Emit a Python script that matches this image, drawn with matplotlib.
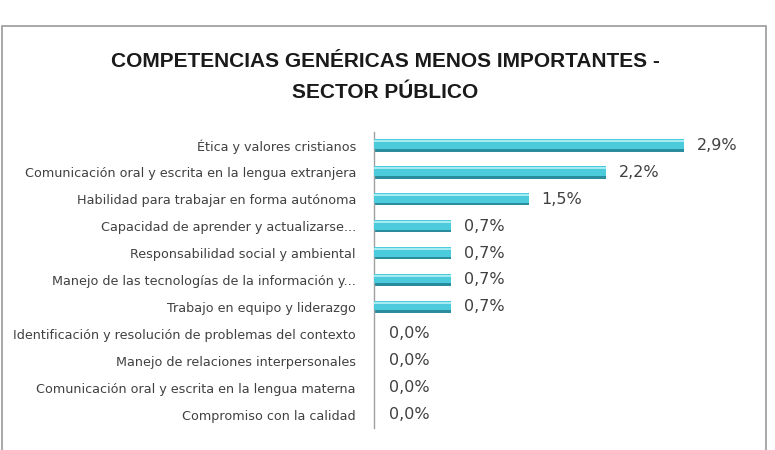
import matplotlib
matplotlib.use("Agg")
import matplotlib.pyplot as plt
from matplotlib.patches import Rectangle

categories = [
    "Ética y valores cristianos",
    "Comunicación oral y escrita en la lengua extranjera",
    "Habilidad para trabajar en forma autónoma",
    "Capacidad de aprender y actualizarse...",
    "Responsabilidad social y ambiental",
    "Manejo de las tecnologías de la información y...",
    "Trabajo en equipo y liderazgo",
    "Identificación y resolución de problemas del contexto",
    "Manejo de relaciones interpersonales",
    "Comunicación oral y escrita en la lengua materna",
    "Compromiso con la calidad",
]
values = [2.86, 2.14, 1.43, 0.71, 0.71, 0.71, 0.71, 0.0, 0.0, 0.0, 0.0]
value_labels = ["2,9%", "2,2%", "1,5%", "0,7%", "0,7%", "0,7%", "0,7%",
                "0,0%", "0,0%", "0,0%", "0,0%"]
title = "COMPETENCIAS GENÉRICAS MENOS IMPORTANTES -\nSECTOR PÚBLICO"

fig = plt.figure(figsize=(7.75, 4.5), dpi=100)
fig.patch.set_facecolor("white")
ax = fig.add_axes([374/775, 1-428/450, (743-374)/775, (428-132)/450])

y = list(range(len(categories)))
# base (darker lower edge), main cyan body, light top highlight
ax.barh(y, values, height=0.46, color="#2a8d9e", edgecolor="none", zorder=2)
ax.barh([v - 0.05 for v in y], values, height=0.36, color="#4ccbdc", edgecolor="none", zorder=3)
ax.barh([v - 0.16 for v in y], values, height=0.08, color="#a6ebf2", edgecolor="none", zorder=4)

ax.set_xlim(0, 3.4)
ax.set_ylim(len(categories) - 0.5, -0.5)
ax.set_yticks(y)
ax.set_yticklabels(categories, fontsize=9.2, color="#404040", family="DejaVu Sans")
ax.tick_params(axis="y", length=0, pad=13)
ax.set_xticks([])
for s in ["top", "right", "bottom"]:
    ax.spines[s].set_visible(False)
ax.spines["left"].set_color("#a0a0a0")
ax.spines["left"].set_linewidth(1.0)

for yi, v, lab in zip(y, values, value_labels):
    ax.annotate(lab, xy=(v, yi), xytext=(9 if v > 0 else 11, 0), textcoords="offset points",
                va="center", ha="left", fontsize=11.5, color="#404040")

fig.text(385/775, 1-77/450, title, ha="center", va="center", fontsize=15,
         fontweight="bold", family="Liberation Sans", color="#1a1a1a", linespacing=1.75)

fig.patches.append(Rectangle((0.002, -0.02), 766/775 - 0.002, 1-26/450 + 0.02,
                             transform=fig.transFigure, fill=False,
                             edgecolor="#9a9a9a", linewidth=1.2))

fig.savefig("out.png", dpi=100)
